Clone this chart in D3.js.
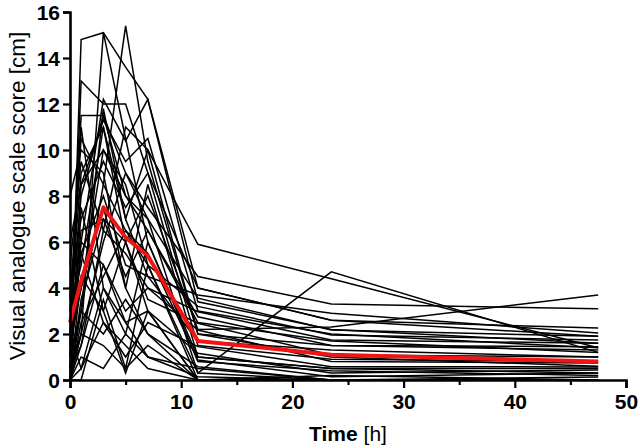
<!DOCTYPE html>
<html>
<head>
<meta charset="utf-8">
<script src="https://cdn.jsdelivr.net/npm/d3@7"></script>
<style>
  html, body { margin: 0; padding: 0; background: #fff; }
  svg { display: block; }
  text { font-family: "Liberation Sans", Arial, sans-serif; }
</style>
</head>
<body>
<svg id="chart" width="640" height="448"></svg>
<script>
// Time points (hours)
const times = [0, 1, 3, 5, 7, 11.5, 23.5, 47.5];

// Individual patient VAS scores at each time point
const patients = [
  [0.3, 14.8, 15.1, 13.6, 12.2, 3.4, 2.2, 1.6],
  [1.0, 3.0, 8.5, 15.4, 9.5, 2.0, 1.5, 1.3],
  [0.0, 2.0, 15.1, 10.5, 6.0, 1.0, 0.5, 0.3],
  [2.0, 11.5, 11.5, 8.0, 6.5, 2.5, 1.7, 1.2],
  [0.5, 6.0, 12.2, 10.4, 12.2, 4.0, 2.6, 1.9],
  [3.0, 9.0, 11.0, 7.0, 10.0, 5.9, 4.4, 1.4],
  [1.5, 4.0, 10.0, 8.5, 5.0, 0.3, 4.7, 1.2],
  [2.5, 8.0, 11.5, 9.0, 7.5, 4.5, 3.3, 3.1],
  [0.0, 3.5, 7.0, 6.0, 8.0, 2.2, 2.3, 3.7],
  [4.0, 7.0, 9.5, 7.5, 9.0, 4.0, 2.6, 2.26],
  [1.0, 5.5, 8.0, 5.0, 4.5, 3.7, 2.9, 2.04],
  [0.0, 2.0, 6.0, 9.0, 7.0, 3.56, 2.17, 1.9],
  [3.5, 10.5, 8.5, 6.5, 5.0, 3.2, 1.96, 1.74],
  [0.5, 1.5, 5.0, 3.0, 4.0, 2.97, 1.74, 1.6],
  [2.0, 6.5, 7.0, 4.5, 6.5, 2.75, 1.5, 1.45],
  [0.0, 4.5, 3.0, 6.0, 3.5, 2.47, 1.09, 1.0],
  [5.0, 9.5, 6.5, 5.5, 4.0, 2.17, 0.8, 0.74],
  [0.0, 0.5, 2.5, 1.0, 2.5, 1.45, 0.58, 0.57],
  [2.5, 6.0, 5.0, 2.5, 3.0, 1.16, 0.3, 0.43],
  [0.0, 2.5, 4.5, 6.5, 5.5, 0.87, 0.14, 0.3],
  [1.0, 3.0, 2.0, 3.5, 2.0, 0.58, 0.0, 0.13],
  [6.0, 8.5, 10.0, 8.0, 7.0, 0.3, 0.0, 0.0],
  [0.0, 1.0, 0.5, 2.0, 1.0, 0.14, 0.0, 0.0],
  [3.0, 5.0, 11.0, 6.0, 3.0, 0.0, 0.0, 0.0],
  [0.5, 2.0, 1.5, 0.5, 1.5, 0.0, 0.0, 0.0],
  [2.0, 4.0, 7.5, 4.0, 2.0, 0.0, 0.2, 0.0],
  [0.0, 0.0, 3.5, 0.5, 5.0, 0.0, 0.0, 0.0],
  [8.0, 10.0, 9.0, 4.0, 8.5, 1.0, 0.5, 0.5],
  [1.5, 11.0, 4.0, 2.5, 1.0, 0.5, 0.0, 0.0],
  [0.0, 7.5, 3.0, 0.3, 3.0, 0.0, 0.0, 0.0],
  [4.5, 5.5, 2.5, 1.5, 0.5, 0.0, 0.0, 0.0],
  [0.0, 1.5, 6.5, 11.0, 10.0, 2.0, 1.0, 0.6],
  [1.0, 13.0, 12.0, 12.0, 9.0, 1.5, 0.9, 0.8],
  [0.0, 3.0, 11.8, 7.0, 4.5, 1.7, 1.3, 1.0],
  [2.0, 0.5, 4.0, 2.0, 6.0, 0.8, 0.4, 0.2],
  [0.5, 8.5, 11.3, 9.5, 10.5, 3.0, 2.0, 1.4]
];

// Mean curve (red)
const meanValues = [2.5, 4.3, 7.5, 6.2, 5.4, 1.7, 1.1, 0.8];

// Axis ticks
const xTicks = [0, 10, 20, 30, 40, 50];
const xMinorTicks = [5, 15, 25, 35, 45];
const yTicks = [0, 2, 4, 6, 8, 10, 12, 14, 16];

const svg = d3.select("#chart");
const margin = { left: 70, right: 14, top: 12, bottom: 68 };
const W = 640, H = 448;

const x = d3.scaleLinear().domain([0, 50]).range([margin.left, W - margin.right]);
const y = d3.scaleLinear().domain([0, 16]).range([H - margin.bottom, margin.top]);

const line = d3.line()
  .x((d, i) => x(times[i]))
  .y(d => y(d));

// individual lines
svg.append("g")
  .selectAll("path")
  .data(patients)
  .join("path")
  .attr("d", d => line(d))
  .attr("fill", "none")
  .attr("stroke", "#000")
  .attr("stroke-width", 1.5);

// mean line
svg.append("path")
  .attr("d", line(meanValues))
  .attr("fill", "none")
  .attr("stroke", "#f01414")
  .attr("stroke-width", 4)
  .attr("stroke-linejoin", "round");

// X axis
const xAxis = svg.append("g")
  .attr("transform", `translate(0,${y(0)})`)
  .call(d3.axisBottom(x).tickValues(xTicks).tickFormat(d3.format("d")).tickSize(8).tickPadding(6));
svg.append("g")
  .attr("transform", `translate(0,${y(0)})`)
  .call(d3.axisBottom(x).tickValues(xMinorTicks).tickFormat("").tickSize(5))
  .call(g => g.select(".domain").remove())
  .selectAll("line").attr("stroke-width", 2.2);

// Y axis
const yAxis = svg.append("g")
  .attr("transform", `translate(${x(0)},0)`)
  .call(d3.axisLeft(y).tickValues(yTicks).tickFormat(d3.format("d")).tickSize(7).tickPadding(3));

[xAxis, yAxis].forEach(g => {
  g.select(".domain").attr("stroke-width", 2.6).attr("stroke", "#000");
  g.selectAll(".tick line").attr("stroke-width", 2.2).attr("stroke", "#000");
  g.selectAll(".tick text")
    .attr("font-family", "'Liberation Sans', Arial, sans-serif")
    .attr("font-size", 21)
    .attr("font-weight", "bold")
    .attr("fill", "#000");
});
yAxis.selectAll(".tick text").attr("dy", "0.35em");

// X axis title
const xt = svg.append("text")
  .attr("x", (x(0) + x(50)) / 2)
  .attr("y", 441)
  .attr("text-anchor", "middle")
  .attr("font-size", 21)
  .attr("fill", "#000");
xt.append("tspan").attr("font-weight", "bold").text("Time");
xt.append("tspan").text(" [h]");

// Y axis title
svg.append("text")
  .attr("transform", `translate(25,${(y(0) + y(16)) / 2}) rotate(-90)`)
  .attr("text-anchor", "middle")
  .attr("font-size", 22.5)
  .attr("fill", "#000")
  .text("Visual analogue scale score [cm]");
</script>
</body>
</html>
